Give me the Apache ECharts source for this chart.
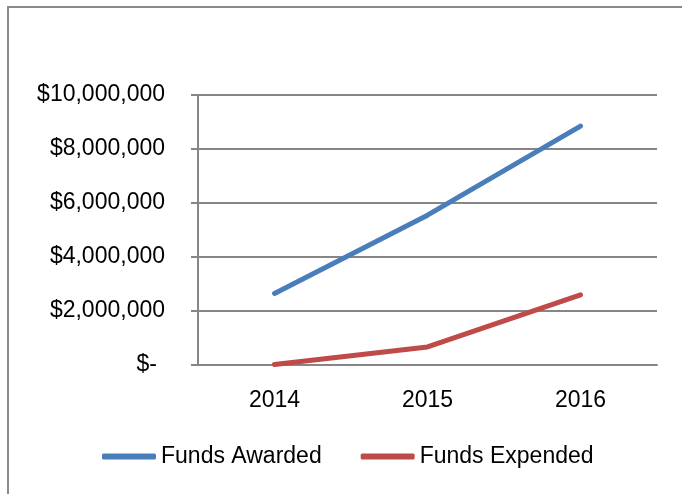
<!DOCTYPE html>
<html>
<head>
<meta charset="utf-8">
<script src="https://cdn.jsdelivr.net/npm/echarts@6/dist/echarts.min.js"></script>
<style>
html,body{margin:0;padding:0;background:#fff;}
#frame{position:absolute;left:7px;top:6px;width:700px;height:520px;border:2px solid #8a8a8a;box-sizing:border-box;}
#graph{position:absolute;left:0;top:0;width:682px;height:494px;}
</style>
</head>
<body>
<div id="frame"></div>
<div id="graph"></div>
<script>
var years = ['2014', '2015', '2016'];
var fundsAwarded = [2650000, 5550000, 8850000];
var fundsExpended = [20000, 670000, 2600000];
var seriesNames = ['Funds Awarded', 'Funds Expended'];

function money(v) {
    if (v == 0) return '{z|$-}';
    return '$' + v.toString().replace(/\B(?=(\d{3})+(?!\d))/g, ',');
}

var dom = document.getElementById('graph');
var myChart = echarts.init(dom);
var font = 'Liberation Sans';
var option = {
    animation: false,
    grid: { left: 198, right: 25, top: 95, bottom: 129 },
    xAxis: {
        type: 'category',
        data: years,
        boundaryGap: true,
        axisLine: { lineStyle: { color: '#868686', width: 2 } },
        axisTick: { length: 7, lineStyle: { color: '#868686', width: 2 } },
        axisLabel: { color: '#000', fontFamily: font, fontSize: 23, margin: 24 }
    },
    yAxis: {
        type: 'value',
        min: 0,
        max: 10000000,
        interval: 2000000,
        axisLine: { show: true, lineStyle: { color: '#868686', width: 2 } },
        axisTick: { show: true, length: 7, lineStyle: { color: '#868686', width: 2 } },
        splitLine: { lineStyle: { color: '#868686', width: 2 } },
        axisLabel: {
            color: '#000', fontFamily: font, fontSize: 23, margin: 33,
            formatter: money,
            rich: { z: { color: '#000', fontFamily: font, fontSize: 23, padding: [0, 8, 0, 0] } }
        }
    },
    legend: {
        top: 440,
        left: 97,
        itemGap: 39,
        itemWidth: 54,
        itemHeight: 6,
        icon: 'roundRect',
        textStyle: { color: '#000', fontFamily: font, fontSize: 23 },
        data: seriesNames
    },
    series: [
        {
            name: seriesNames[0],
            type: 'line',
            data: fundsAwarded,
            symbol: 'none',
            lineStyle: { color: '#4A7EBB', width: 5, cap: 'round' },
            itemStyle: { color: '#4A7EBB' }
        },
        {
            name: seriesNames[1],
            type: 'line',
            data: fundsExpended,
            symbol: 'none',
            lineStyle: { color: '#BE4B48', width: 5, cap: 'round' },
            itemStyle: { color: '#BE4B48' }
        }
    ]
};
myChart.setOption(option, true);
</script>
</body>
</html>
